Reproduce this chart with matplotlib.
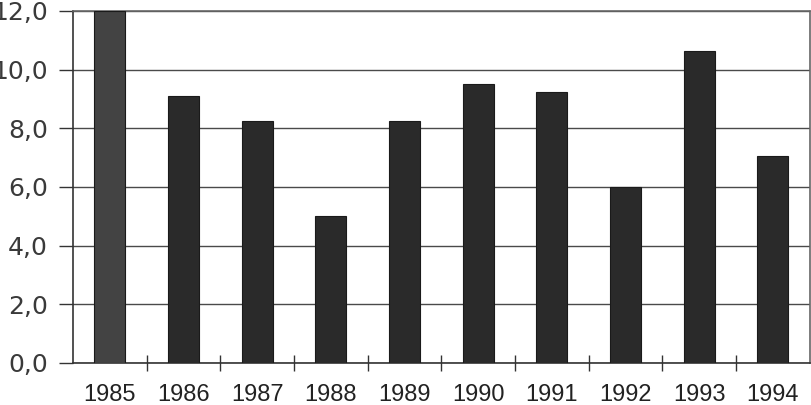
import matplotlib
matplotlib.use("Agg")
import matplotlib.pyplot as plt
from matplotlib.ticker import FuncFormatter, FixedLocator
import numpy as np

years = ["1985", "1986", "1987", "1988", "1989", "1990", "1991", "1992", "1993", "1994"]
values = [12.0, 9.1, 8.25, 5.0, 8.25, 9.5, 9.25, 6.0, 10.65, 7.05]

fig = plt.figure(figsize=(8.12, 4.05), dpi=100)
ax = fig.add_axes([0.09, 0.104, 0.907, 0.869])

x = np.arange(len(years))
colors = ["#434343"] + ["#2a2a2a"] * (len(years) - 1)
ax.bar(x, values, width=0.42, color=colors, edgecolor="#1a1a1a", linewidth=0.8, zorder=3)

ax.set_xlim(-0.5, len(years) - 0.5)
ax.set_ylim(0, 12)

# grid lines
ax.set_yticks(np.arange(0, 13, 2))
ax.yaxis.grid(True, color="#4a4a4a", linewidth=1.0, zorder=1)
ax.yaxis.set_major_formatter(FuncFormatter(lambda v, p: f"{v:.1f}".replace(".", ",")))
ax.tick_params(axis="y", direction="out", length=10, width=1, color="#333333",
               pad=8, labelsize=18, labelcolor="#3a3a3a")
for lab in ax.get_yticklabels():
    lab.set_fontfamily("DejaVu Sans")

# year labels centered, tick marks between categories
ax.set_xticks(x)
ax.set_xticklabels(years, fontfamily=["Liberation Sans", "DejaVu Sans"], fontsize=17, color="#222222")
ax.tick_params(axis="x", which="major", length=0, pad=15)
ax.xaxis.set_minor_locator(FixedLocator(np.arange(0.5, len(years) - 1, 1.0)))
ax.tick_params(axis="x", which="minor", direction="inout", length=11, width=1, color="#333333")

for s in ["left", "bottom"]:
    ax.spines[s].set_color("#333333")
    ax.spines[s].set_linewidth(1.2)
for s in ["top", "right"]:
    ax.spines[s].set_color("#666666")
    ax.spines[s].set_linestyle((0, (1, 1)))
    ax.spines[s].set_linewidth(1.2)

fig.savefig("out.png", dpi=100)
